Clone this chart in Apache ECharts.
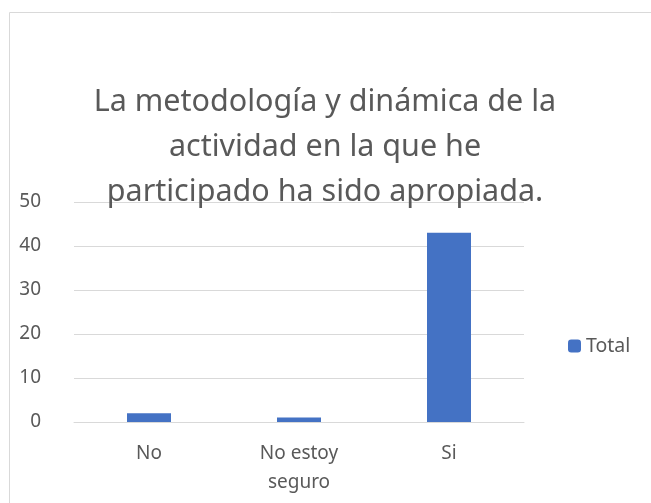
<!DOCTYPE html>
<html>
<head>
<meta charset="utf-8">
<script src="https://cdn.jsdelivr.net/npm/echarts@6/dist/echarts.min.js"></script>
<style>
  html, body { margin: 0; padding: 0; background: #fff; }
  #chart { width: 651px; height: 503px; }
</style>
</head>
<body>
<div id="chart"></div>
<script>
const categories = ['No', 'No estoy\nseguro', 'Si'];
const totals = [2, 1, 43];
const yTicks = { min: 0, max: 50, interval: 10 };

const chart = echarts.init(document.getElementById('chart'));
const font = '"Noto Sans", sans-serif';

chart.setOption({
  animation: false,
  textStyle: { fontFamily: font },
  graphic: [
    {
      type: 'rect',
      shape: { x: 9.5, y: 12.5, width: 700, height: 600 },
      style: { fill: 'none', stroke: '#d9d9d9', lineWidth: 1 },
      silent: true,
    },
  ],
  title: {
    text: 'La metodología y dinámica de la\nactividad en la que he\nparticipado ha sido apropiada.',
    left: 320,
    top: 75,
    textAlign: 'center',
    textStyle: {
      fontFamily: font,
      fontSize: 30.5,
      fontWeight: 'normal',
      color: '#595959',
      lineHeight: 45,
    },
  },
  legend: {
    data: ['Total'],
    left: 563,
    top: 331,
    itemWidth: 13,
    itemHeight: 13,
    itemGap: 6,
    textStyle: { fontFamily: font, fontSize: 19.5, color: '#595959' },
  },
  grid: { left: 74, right: 127, top: 202, bottom: 81, containLabel: false },
  xAxis: {
    type: 'category',
    data: categories,
    axisLine: { lineStyle: { color: '#d9d9d9', width: 1 } },
    axisTick: { show: false },
    axisLabel: {
      color: '#595959',
      fontSize: 19,
      fontFamily: font,
      margin: 17,
      lineHeight: 29,
    },
  },
  yAxis: {
    type: 'value',
    min: yTicks.min,
    max: yTicks.max,
    interval: yTicks.interval,
    axisLine: { show: false },
    axisTick: { show: false },
    splitLine: { lineStyle: { color: '#d9d9d9', width: 1 } },
    axisLabel: { color: '#595959', fontSize: 19, fontFamily: font, margin: 33 },
  },
  series: [
    {
      name: 'Total',
      type: 'bar',
      data: totals,
      barWidth: 44,
      itemStyle: { color: '#4472c4' },
    },
  ],
});
</script>
</body>
</html>
